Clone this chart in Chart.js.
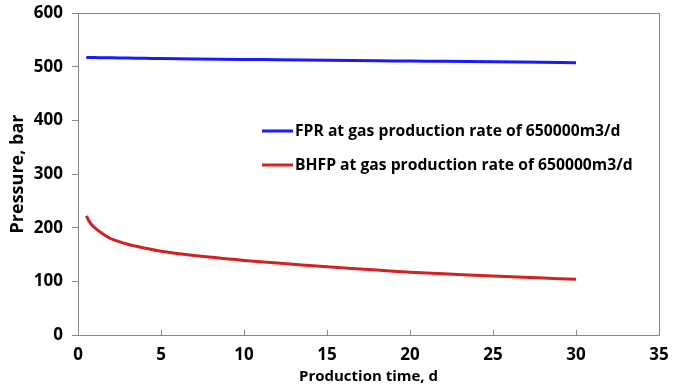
<!DOCTYPE html>
<html>
<head>
<meta charset="utf-8">
<script src="https://cdn.jsdelivr.net/npm/chart.js@4.4.0/dist/chart.umd.min.js"></script>
<style>
  html, body { margin: 0; padding: 0; background: #fff; }
  #wrap { width: 683px; height: 386px; }
</style>
</head>
<body>
<div id="wrap"><canvas id="c"></canvas></div>
<script>
// production time, d
const days = [0.5, 0.75, 1, 1.5, 2, 3, 4, 5, 7, 10, 12, 15, 18, 20, 22, 25, 28, 30];
// formation pressure (bar)
const fpr = [517, 517, 517, 516.5, 516.5, 516, 515.5, 515, 514.5, 513.5, 513, 512, 511, 510.5, 510, 509, 508, 507.5];
// bottom hole flowing pressure (bar)
const bhfp = [222, 208, 200, 188, 179, 169, 162, 156, 148, 139, 134, 127, 121, 117, 114, 110, 106, 104];

const labels = [
  'FPR at gas production rate of 650000m3/d',
  'BHFP at gas production rate of 650000m3/d'
];
const colors = ['#1a1aff', '#d42020'];

const font = { family: 'Open Sans', size: 15, weight: 'bold' };
const tickFont = { family: 'Open Sans', size: 17, weight: 'bold' };

// box around plot + inward x ticks + legend inside plot
const extras = {
  id: 'extras',
  afterDraw(chart) {
    const ctx = chart.ctx;
    const a = chart.chartArea;
    const xs = chart.scales.x;
    ctx.save();
    ctx.strokeStyle = '#888';
    ctx.lineWidth = 1;
    ctx.strokeRect(a.left + 0.5, a.top + 0.5, a.right - a.left, a.bottom - a.top);
    xs.ticks.forEach(t => {
      const px = Math.round(xs.getPixelForValue(t.value)) + 0.5;
      ctx.beginPath();
      ctx.moveTo(px, a.bottom);
      ctx.lineTo(px, a.bottom - 5);
      ctx.stroke();
    });
    // legend
    ctx.font = 'bold 15.7px "Open Sans"';
    ctx.textBaseline = 'middle';
    const lx = 262, ly = [131, 165];
    labels.forEach((l, i) => {
      ctx.strokeStyle = colors[i];
      ctx.lineWidth = 3;
      ctx.beginPath();
      ctx.moveTo(lx, ly[i]);
      ctx.lineTo(lx + 31, ly[i]);
      ctx.stroke();
      ctx.fillStyle = '#000';
      ctx.fillText(l, lx + 33, ly[i] + 1);
    });
    ctx.restore();
  }
};

new Chart(document.getElementById('c'), {
  type: 'line',
  data: {
    datasets: [
      { label: labels[0], data: days.map((d, i) => ({ x: d, y: fpr[i] })), borderColor: colors[0], borderWidth: 3, pointRadius: 0, tension: 0.3 },
      { label: labels[1], data: days.map((d, i) => ({ x: d, y: bhfp[i] })), borderColor: colors[1], borderWidth: 3, pointRadius: 0, tension: 0.3 }
    ]
  },
  options: {
    responsive: true,
    maintainAspectRatio: false,
    animation: false,
    layout: { autoPadding: false, padding: { top: 13, right: 24, left: 0, bottom: 0 } },
    plugins: { legend: { display: false }, tooltip: { enabled: false } },
    scales: {
      x: {
        type: 'linear',
        min: 0, max: 35,
        ticks: { stepSize: 5, color: '#000', font: tickFont, padding: 10 },
        grid: { display: false, drawTicks: false },
        border: { color: '#888' },
        title: { display: true, text: 'Production time, d', color: '#000', font: font, padding: { top: 0, bottom: 0 } },
        afterFit(s) { s.height = 51; s.paddingLeft = 0; s.paddingRight = 0; }
      },
      y: {
        min: 0, max: 600,
        ticks: { stepSize: 100, color: '#000', font: tickFont, padding: 9 },
        grid: { drawOnChartArea: false, tickLength: 6, color: '#888' },
        border: { color: '#888' },
        title: { display: true, text: 'Pressure, bar', color: '#000', font: { family: 'Open Sans', size: 18, weight: 'bold' }, padding: { top: 7, bottom: 0 } },
        afterFit(s) { s.width = 78; s.paddingTop = 0; s.paddingBottom = 0; }
      }
    }
  },
  plugins: [extras]
});
</script>
</body>
</html>
